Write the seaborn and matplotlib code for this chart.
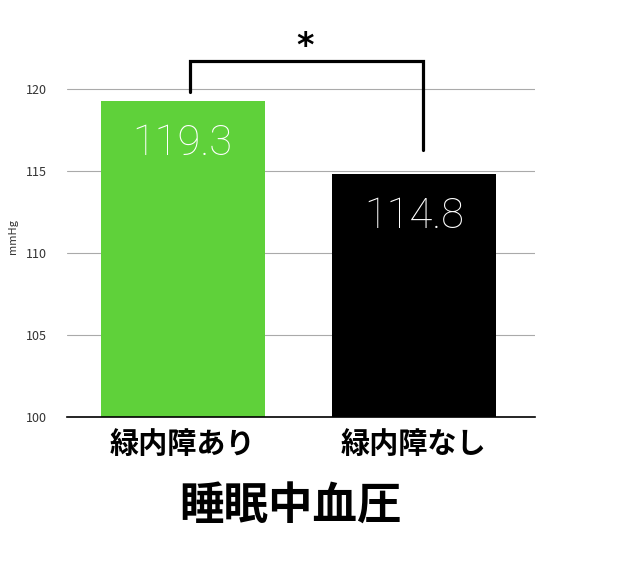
import matplotlib
matplotlib.use("Agg")
import matplotlib.pyplot as plt
import seaborn as sns
import pandas as pd

groups = ["緑内障あり", "緑内障なし"]
values = [119.3, 114.8]
bar_colors = ["#5fd13a", "#000000"]
y_ticks = [100, 105, 110, 115, 120]
title = "睡眠中血圧"

sns.set_theme(style="white")
plt.rcParams["font.family"] = ["Noto Sans CJK JP", "DejaVu Sans"]
plt.rcParams["text.color"] = "black"

df = pd.DataFrame({"group": groups, "value": values})

fig = plt.figure(figsize=(6.19, 5.75), dpi=100)
ax = fig.add_axes([0.108, 0.275, 0.756, 0.627])

sns.barplot(data=df, x="group", y="value", hue="group", palette=bar_colors,
            width=0.71, legend=False, ax=ax, saturation=1, linewidth=0)

ax.set_ylim(100, 122)
ax.set_xlim(-0.502, 1.524)
ax.set_yticks(y_ticks)
ax.yaxis.grid(True, color="#aaaaaa", linewidth=0.8)
ax.set_axisbelow(True)
for s in ["top", "right", "left"]:
    ax.spines[s].set_visible(False)
ax.spines["bottom"].set_color("black")
ax.spines["bottom"].set_linewidth(1.2)
ax.tick_params(axis="y", labelsize=9, colors="#333333", length=0, pad=14)
ax.tick_params(axis="x", labelsize=21, length=0, pad=9, labelcolor="black")
for lbl in ax.get_xticklabels():
    lbl.set_fontweight("bold")
ax.set_xlabel("")
ax.set_ylabel("mmHg", fontsize=8, color="#333333", labelpad=6)

# values inside bars
for i, v in enumerate(values):
    ax.text(i, v - 2.6, f"{v}", ha="center", va="center", fontsize=30,
            color="white", fontweight="light", family=["Roboto", "DejaVu Sans"])

# significance bracket
ax.plot([0.03, 0.03, 1.04, 1.04], [119.8, 121.7, 121.7, 116.3],
        color="black", linewidth=2.3, clip_on=False, solid_joinstyle="miter")
ax.text(0.53, 122.6, "*", ha="center", va="center", fontsize=24,
        fontweight="bold", family=["DejaVu Sans"], color="black")

fig.text(0.47, 0.118, title, ha="center", va="center", fontsize=32,
         fontweight="bold", color="black")

fig.savefig("out.png", dpi=100)
